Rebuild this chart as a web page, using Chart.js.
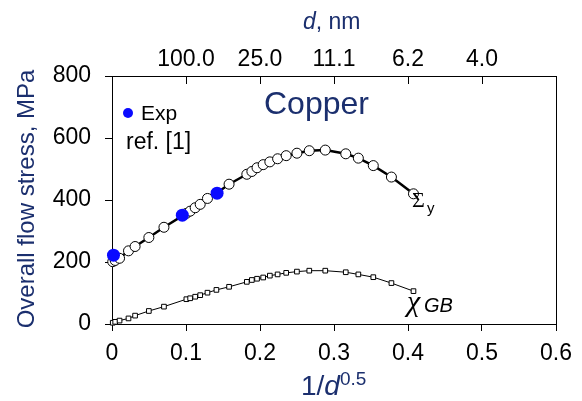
<!DOCTYPE html>
<html>
<head>
<meta charset="utf-8">
<script src="https://cdn.jsdelivr.net/npm/chart.js@4/dist/chart.umd.min.js"></script>
<style>
  html, body { margin: 0; padding: 0; background: #fff; }
  #wrap { width: 582px; height: 401px; }
</style>
</head>
<body>
<div id="wrap"><canvas id="chart" width="582" height="401"></canvas></div>
<script>
// grain size axis, 1/d^0.5 (nm^-0.5)
const xVals = [0.001, 0.0043, 0.0102, 0.0223, 0.0312, 0.0498, 0.0702, 0.1005, 0.1056, 0.1124,
  0.1192, 0.129, 0.1411, 0.1582, 0.1822, 0.189, 0.196, 0.2043, 0.2133, 0.2238,
  0.2354, 0.2499, 0.2666, 0.2882, 0.3159, 0.3329, 0.3531, 0.3776, 0.4074];
// overall flow stress, MPa
const sigmaY = [201, 205, 212, 236, 250, 279, 312, 357, 364, 375,
  386, 405, 422, 451, 483, 492, 504, 514, 523, 533,
  543, 551, 559, 561, 549, 535, 511, 474, 420];
// grain boundary contribution, MPa
const chiGB = [4, 7, 11, 18, 27, 42, 56, 80, 83, 88,
  93, 101, 110, 120, 136, 142, 146, 150, 156, 160,
  165, 169, 172, 172, 167, 160, 151, 132, 106];
// experiment, ref. [1]
const expX = [0.002, 0.095, 0.142];
const expY = [222, 351, 422];

const xTickLabels = ['0', '0.1', '0.2', '0.3', '0.4', '0.5', '0.6'];
const dTickLabels = ['', '100.0', '25.0', '11.1', '6.2', '4.0', ''];
const yTickLabels = ['0', '200', '400', '600', '800'];

const FONT = "'Liberation Sans', Arial, sans-serif";
const NAVY = '#1b2f6e';

const pts = (xs, ys) => xs.map((x, i) => ({ x: x, y: ys[i] }));

// frame, inward top ticks and all the text that is not a tick label
const decor = {
  id: 'decor',
  afterDraw(chart) {
    const ctx = chart.ctx;
    const a = chart.chartArea;
    const top = chart.scales.x2;
    ctx.save();
    ctx.strokeStyle = '#000';
    ctx.lineWidth = 1;
    ctx.beginPath();
    ctx.moveTo(a.right + 0.5, a.top);
    ctx.lineTo(a.right + 0.5, a.bottom);
    top.ticks.forEach(t => {
      const px = Math.round(top.getPixelForValue(t.value)) + 0.5;
      ctx.moveTo(px, a.top);
      ctx.lineTo(px, a.top + 8);
    });
    ctx.stroke();

    // axis titles
    ctx.fillStyle = NAVY;
    ctx.textBaseline = 'alphabetic';
    ctx.textAlign = 'left';
    ctx.font = 'italic 23px ' + FONT;
    ctx.fillText('d', 303, 29);
    let w = ctx.measureText('d').width;
    ctx.font = '23px ' + FONT;
    ctx.fillText(', nm', 303 + w, 29);

    ctx.font = '28px ' + FONT;
    ctx.fillText('1/', 301, 395);
    w = ctx.measureText('1/').width;
    ctx.font = 'italic 28px ' + FONT;
    ctx.fillText('d', 301 + w, 395);
    w += ctx.measureText('d').width;
    ctx.font = '19px ' + FONT;
    ctx.fillText('0.5', 301 + w, 385);

    ctx.save();
    ctx.translate(34, 199);
    ctx.rotate(-Math.PI / 2);
    ctx.textAlign = 'center';
    ctx.font = '24px ' + FONT;
    ctx.fillText('Overall flow stress, MPa', 0, 0);
    ctx.restore();

    ctx.font = '32px ' + FONT;
    ctx.fillText('Copper', 264, 114);

    // legend
    ctx.fillStyle = '#0a0aff';
    ctx.beginPath();
    ctx.arc(128, 113, 5, 0, Math.PI * 2);
    ctx.fill();
    ctx.fillStyle = '#000';
    ctx.font = '21px ' + FONT;
    ctx.fillText('Exp', 141, 120);
    ctx.font = '23px ' + FONT;
    ctx.fillText('ref. [1]', 126, 149);

    // curve labels
    ctx.font = "22px 'Liberation Serif', serif";
    ctx.fillText('\u03A3', 412, 207);
    ctx.font = '15px ' + FONT;
    ctx.fillText('y', 427, 213);
    ctx.font = "italic 30px 'Liberation Serif', serif";
    ctx.fillText('\u03C7', 407, 311);
    ctx.font = 'italic 20px ' + FONT;
    ctx.fillText('GB', 424, 312);
    ctx.restore();
  }
};

new Chart(document.getElementById('chart'), {
  type: 'scatter',
  data: {
    datasets: [
      {
        label: 'Exp',
        data: pts(expX, expY),
        pointRadius: 6.5,
        pointBackgroundColor: '#0a0aff',
        pointBorderColor: '#0a0aff',
        pointBorderWidth: 0,
        showLine: false,
        clip: false,
      },
      {
        label: 'Sigma_y',
        data: pts(xVals, sigmaY),
        showLine: true,
        borderColor: '#000',
        borderWidth: 2.5,
        tension: 0,
        pointRadius: 5,
        pointBackgroundColor: '#fff',
        pointBorderColor: '#000',
        pointBorderWidth: 1,
        clip: false,
      },
      {
        label: 'chi_GB',
        data: pts(xVals, chiGB),
        showLine: true,
        borderColor: '#000',
        borderWidth: 1,
        tension: 0,
        pointStyle: 'rect',
        pointRadius: 3.3,
        pointBackgroundColor: '#fff',
        pointBorderColor: '#000',
        pointBorderWidth: 1,
        clip: false,
      },
    ],
  },
  options: {
    responsive: false,
    animation: false,
    devicePixelRatio: 1,
    layout: { padding: { left: 0, right: 26, top: 0, bottom: 0 } },
    plugins: { legend: { display: false }, tooltip: { enabled: false } },
    scales: {
      x: {
        type: 'linear',
        position: 'bottom',
        min: 0,
        max: 0.6,
        ticks: {
          stepSize: 0.1,
          color: '#000',
          font: { family: FONT, size: 23 },
          padding: 9,
          maxRotation: 0,
          callback: (v, i) => xTickLabels[i],
        },
        grid: { drawOnChartArea: false, tickLength: 7, color: '#000' },
        border: { color: '#000', width: 1 },
        afterFit: s => { s.height = 77; },
      },
      x2: {
        type: 'linear',
        position: 'top',
        min: 0,
        max: 0.6,
        ticks: {
          stepSize: 0.1,
          color: '#000',
          font: { family: FONT, size: 23 },
          padding: 3,
          maxRotation: 0,
          callback: (v, i) => dTickLabels[i],
        },
        grid: { drawOnChartArea: false, drawTicks: false, color: '#000' },
        border: { color: '#000', width: 1 },
        afterFit: s => { s.height = 76; },
      },
      y: {
        min: 0,
        max: 800,
        ticks: {
          stepSize: 200,
          color: '#000',
          font: { family: FONT, size: 23 },
          padding: 14,
          callback: (v, i) => yTickLabels[i],
        },
        grid: { drawOnChartArea: false, tickLength: 7, color: '#000' },
        border: { color: '#000', width: 1 },
        afterFit: s => { s.width = 112; },
      },
    },
  },
  plugins: [decor],
});
</script>
</body>
</html>
